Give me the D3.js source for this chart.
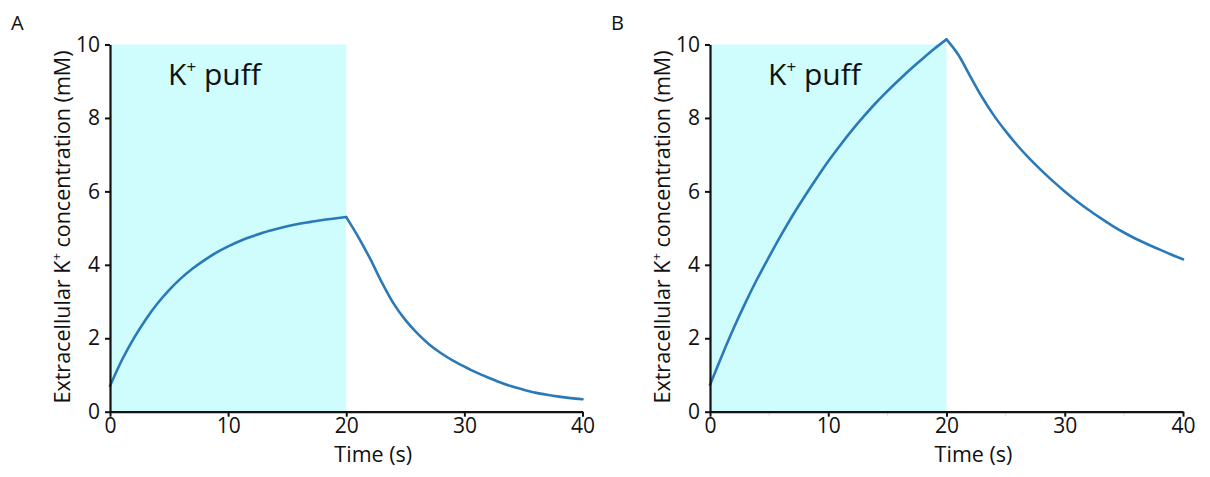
<!DOCTYPE html>
<html>
<head>
<meta charset="utf-8">
<script src="https://cdn.jsdelivr.net/npm/d3@7"></script>
<style>
  html, body { margin: 0; padding: 0; background: #fff; }
  svg { display: block; font-family: "Open Sans", "Noto Sans", sans-serif; }
</style>
</head>
<body>
<svg id="chart" width="1210" height="477"></svg>
<script>
// ---- data ----
const panelLabels = ["A", "B"];
const xTickValues = [0, 10, 20, 30, 40];
const yTickValues = [0, 2, 4, 6, 8, 10];
const minorXTicks = [5, 15, 25, 35];
const puffWindow = [0, 20];

// time (s), one point per second
const timeRise = [0,1,2,3,4,5,6,7,8,9,10,11,12,13,14,15,16,17,18,19,20];
const timeDecay = [20,21,22,23,24,25,26,27,28,29,30,31,32,33,34,35,36,37,38,39,40];

// Panel A: extracellular K+ (mM)
const riseA  = [0.70,1.40,1.99,2.50,2.94,3.31,3.63,3.90,4.13,4.33,4.50,4.65,4.77,4.88,4.97,5.05,5.12,5.17,5.22,5.26,5.30];
const decayA = [5.30,4.77,4.18,3.53,2.95,2.50,2.14,1.84,1.60,1.40,1.23,1.07,0.93,0.80,0.69,0.60,0.52,0.46,0.41,0.37,0.34];

// Panel B: extracellular K+ (mM)
const riseB  = [0.73,1.52,2.27,2.97,3.62,4.22,4.80,5.35,5.86,6.35,6.82,7.25,7.66,8.04,8.40,8.73,9.04,9.34,9.62,9.89,10.14];
const decayB = [10.14,9.72,9.14,8.57,8.07,7.64,7.25,6.90,6.58,6.28,6.00,5.74,5.50,5.28,5.07,4.88,4.71,4.56,4.42,4.28,4.15];

// ---- drawing ----
const svg = d3.select("#chart");
const y = d3.scaleLinear().domain([0, 10]).range([411.7, 44.5]);

const panels = [
  { label: panelLabels[0], x0: 110, x1: 582.5, labelX: 11, rise: riseA, decay: decayA, minor: false },
  { label: panelLabels[1], x0: 710, x1: 1183, labelX: 611, rise: riseB, decay: decayB, minor: true }
];

const TEXT = "#111";

panels.forEach(p => {
  const x = d3.scaleLinear().domain([0, 40]).range([p.x0, p.x1]);
  const g = svg.append("g");

  // shaded puff window
  g.append("rect")
    .attr("x", x(puffWindow[0]))
    .attr("y", y(10))
    .attr("width", x(puffWindow[1]) - x(puffWindow[0]))
    .attr("height", y(0) - y(10))
    .attr("fill", "#cffcfc");

  // "K+ puff" label
  const t = g.append("text")
    .attr("x", x(0) + 58)
    .attr("y", 85)
    .attr("font-size", 30)
    .attr("fill", TEXT);
  t.append("tspan").text("K");
  t.append("tspan").text("+").attr("font-size", 17).attr("dy", -12);
  t.append("tspan").text(" puff").attr("dy", 12);

  // data lines (rise and decay drawn as two smooth segments meeting at the peak)
  const line = d3.line().x(d => x(d[0])).y(d => y(d[1])).curve(d3.curveMonotoneX);
  const risePts = timeRise.map((tt, i) => [tt, p.rise[i]]);
  const decayPts = timeDecay.map((tt, i) => [tt, p.decay[i]]);
  [risePts, decayPts].forEach(pts => {
    g.append("path")
      .datum(pts)
      .attr("fill", "none")
      .attr("stroke", "#2a79b8")
      .attr("stroke-width", 2.6)
      .attr("stroke-linejoin", "round")
      .attr("stroke-linecap", "round")
      .attr("d", line);
  });

  // minor ticks
  if (p.minor) {
    g.selectAll(".minor").data(minorXTicks).enter().append("line")
      .attr("x1", d => x(d)).attr("x2", d => x(d))
      .attr("y1", y(0)).attr("y2", y(0) + 4)
      .attr("stroke", "#d8d8d8").attr("stroke-width", 1);
  }

  // axes
  const xAxis = d3.axisBottom(x).tickValues(xTickValues).tickSize(5).tickPadding(1).tickSizeOuter(0);
  const yAxis = d3.axisLeft(y).tickValues(yTickValues).tickSize(5).tickPadding(5).tickSizeOuter(0);

  const gx = g.append("g").attr("transform", `translate(0,${y(0)})`).call(xAxis);
  const gy = g.append("g").attr("transform", `translate(${x(0)},0)`).call(yAxis);
  [gx, gy].forEach(ax => {
    ax.select(".domain").attr("stroke", TEXT).attr("stroke-width", 2.2);
    ax.selectAll(".tick line").attr("stroke", TEXT).attr("stroke-width", 2);
    ax.selectAll(".tick text").attr("font-size", 21).attr("fill", TEXT)
      .attr("font-family", "'Open Sans', sans-serif");
  });

  // axis titles
  g.append("text")
    .attr("x", (p.x0 + p.x1) / 2 + 27)
    .attr("y", 462)
    .attr("text-anchor", "middle")
    .attr("font-size", 21.5)
    .attr("fill", TEXT)
    .text("Time (s)");

  const yl = g.append("text")
    .attr("transform", `translate(${x(0) - 40},227) rotate(-90)`)
    .attr("text-anchor", "middle")
    .attr("font-size", 21.5)
    .attr("fill", TEXT);
  yl.append("tspan").text("Extracellular K");
  yl.append("tspan").text("+").attr("font-size", 13).attr("dy", -9);
  yl.append("tspan").text(" concentration (mM)").attr("dy", 9);

  // panel label
  g.append("text")
    .attr("x", p.labelX)
    .attr("y", 30)
    .attr("font-size", 20)
    .attr("fill", TEXT)
    .text(p.label);
});
</script>
</body>
</html>
